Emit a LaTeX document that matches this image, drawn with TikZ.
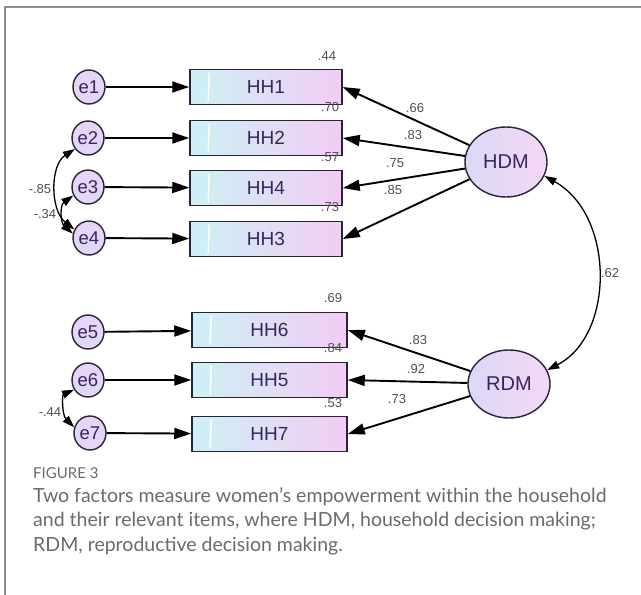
\documentclass[tikz,border=0pt]{standalone}
\usepackage{fontspec}
\setmainfont{Liberation Sans}
\newfontfamily\capfont{Lato}
\usetikzlibrary{shapes.geometric, arrows.meta}
\definecolor{ink}{HTML}{36265E}
\definecolor{edge}{HTML}{2A2238}
\definecolor{cyanish}{HTML}{CDF1F5}
\definecolor{lavmid}{HTML}{DCD8F6}
\definecolor{pinkish}{HTML}{F3CCF4}
\definecolor{lav}{HTML}{E3D6F6}
\definecolor{framegray}{HTML}{8E8E8E}
\definecolor{numgray}{HTML}{505050}
\definecolor{capgray}{HTML}{6A6A6A}
\tikzset{
  item/.style={draw=edge, line width=1.5pt, left color=cyanish, middle color=lavmid,
    right color=pinkish, minimum width=152pt, minimum height=35pt, inner sep=0pt,
    font=\fontsize{19}{19}\selectfont, text=ink},
  err/.style={ellipse, draw=edge, line width=1.4pt, fill=lav, minimum width=32pt,
    minimum height=34pt, inner sep=0pt, font=\fontsize{18.5}{18.5}\selectfont, text=ink},
  fac/.style={ellipse, draw=edge, line width=1.4pt, left color=lavmid, right color=pinkish!80,
    minimum width=82pt, minimum height=70pt, inner sep=0pt,
    font=\fontsize{20}{20}\selectfont, text=ink},
  load/.style={line width=1.9pt, -{Triangle[length=17pt,width=11pt]}},
  cov/.style={line width=1.3pt, {Triangle[length=12pt,width=8pt]}-{Triangle[length=12pt,width=8pt]}},
  num/.style={font=\fontsize{13}{13}\selectfont, text=numgray, inner sep=0pt},
  stripe/.style={white, line width=1.5pt}
}

\begin{document}
\begin{tikzpicture}[x=1pt,y=1pt]
  \useasboundingbox (0,0) rectangle (641,-595);
  \draw [framegray, line width=2pt] (4,-7) -- (641,-7);
  \draw [framegray, line width=1.6pt] (5,-7) -- (5,-595);

  \node [item] (HH1) at (266,-87) {HH1};
  \node [item] (HH2) at (266,-138) {HH2};
  \node [item] (HH4) at (266,-188) {HH4};
  \node [item] (HH3) at (266,-239) {HH3};
  \node [item, minimum width=155pt] (HH6) at (269.5,-330) {HH6};
  \node [item, minimum width=155pt] (HH5) at (269.5,-380) {HH5};
  \node [item, minimum width=155pt] (HH7) at (269.5,-434) {HH7};
  \foreach \b in {HH1,HH2,HH4,HH3,HH6,HH5,HH7}
    \draw [stripe] ([xshift=20pt,yshift=-4pt]\b.north west) -- ([xshift=19pt,yshift=4pt]\b.south west);

  \node [err] (e1) at (89,-87) {e1};
  \node [err] (e2) at (88,-138) {e2};
  \node [err] (e3) at (88,-187) {e3};
  \node [err] (e4) at (89,-238) {e4};
  \node [err] (e5) at (88,-332) {e5};
  \node [err] (e6) at (88,-380) {e6};
  \node [err] (e7) at (90,-433) {e7};

  \node [fac] (HDM) at (506,-162) {HDM};
  \node [fac, minimum height=68pt] (RDM) at (509,-384) {RDM};

  \draw [load] (e1) -- (HH1);
  \draw [load] (e2) -- (HH2);
  \draw [load] (e3) -- (HH4);
  \draw [load] (e4) -- (HH3);
  \draw [load] (e5) -- (HH6);
  \draw [load] (e6) -- (HH5);
  \draw [load] (e7) -- (HH7);

  \draw [load] (HDM) -- (HH1.east);
  \draw [load] (HDM) -- (HH2.east);
  \draw [load] (HDM) -- (HH4.east);
  \draw [load] (HDM) -- (HH3.east);
  \draw [load] (RDM) -- (HH6.east);
  \draw [load] (RDM) -- (HH5.east);
  \draw [load] (RDM) -- (HH7.east);

  \node [num] (v1) at (327,-56) {.44};
  \node [num] (v2) at (330,-107) {.70};
  \node [num] (v4) at (330,-157) {.57};
  \node [num] (v3) at (330,-207) {.73};
  \node [num] (v6) at (333,-298) {.69};
  \node [num] (v5) at (333,-348) {.84};
  \node [num] (v7) at (333,-403) {.53};

  \node [num] (l1) at (415,-108) {.66};
  \node [num] (l2) at (413,-135) {.83};
  \node [num] (l4) at (395,-163) {.75};
  \node [num] (l3) at (393,-190) {.85};
  \node [num] (l6) at (418,-340) {.83};
  \node [num] (l5) at (416,-369) {.92};
  \node [num] (l7) at (397,-399) {.73};
  \node [num] (r) at (610,-273) {.62};

  \node [num] (c24) at (40,-189) {-.85};
  \node [num] (c34) at (45,-214) {-.34};
  \node [num] (c67) at (50,-412) {-.44};

  \draw [cov] (HDM.-20) .. controls (615,-215) and (615,-335) .. (RDM.20);
  \draw [cov] (e2.220) .. controls (50,-165) and (50,-210) .. (e4.150);
  \draw [cov] (e3.210) .. controls (60,-205) and (60,-222) .. (e4.165);
  \draw [cov] (e6.215) .. controls (62,-395) and (62,-415) .. (e7.160);

  \node [anchor=base west, inner sep=0pt, text=capgray, font=\capfont\fontsize{15}{15}\selectfont] (fig) at (33,-478) {FIGURE 3};
  \node [anchor=north west, inner sep=0pt, align=left, text=capgray,
    font=\capfont\fontsize{19.5}{24.5}\selectfont] (cap) at ([yshift=-9pt]fig.south west)
    {Two factors measure women’s empowerment within the household\\
     and their relevant items, where HDM, household decision making;\\
     RDM, reproductive decision making.};
\end{tikzpicture}
\end{document}
